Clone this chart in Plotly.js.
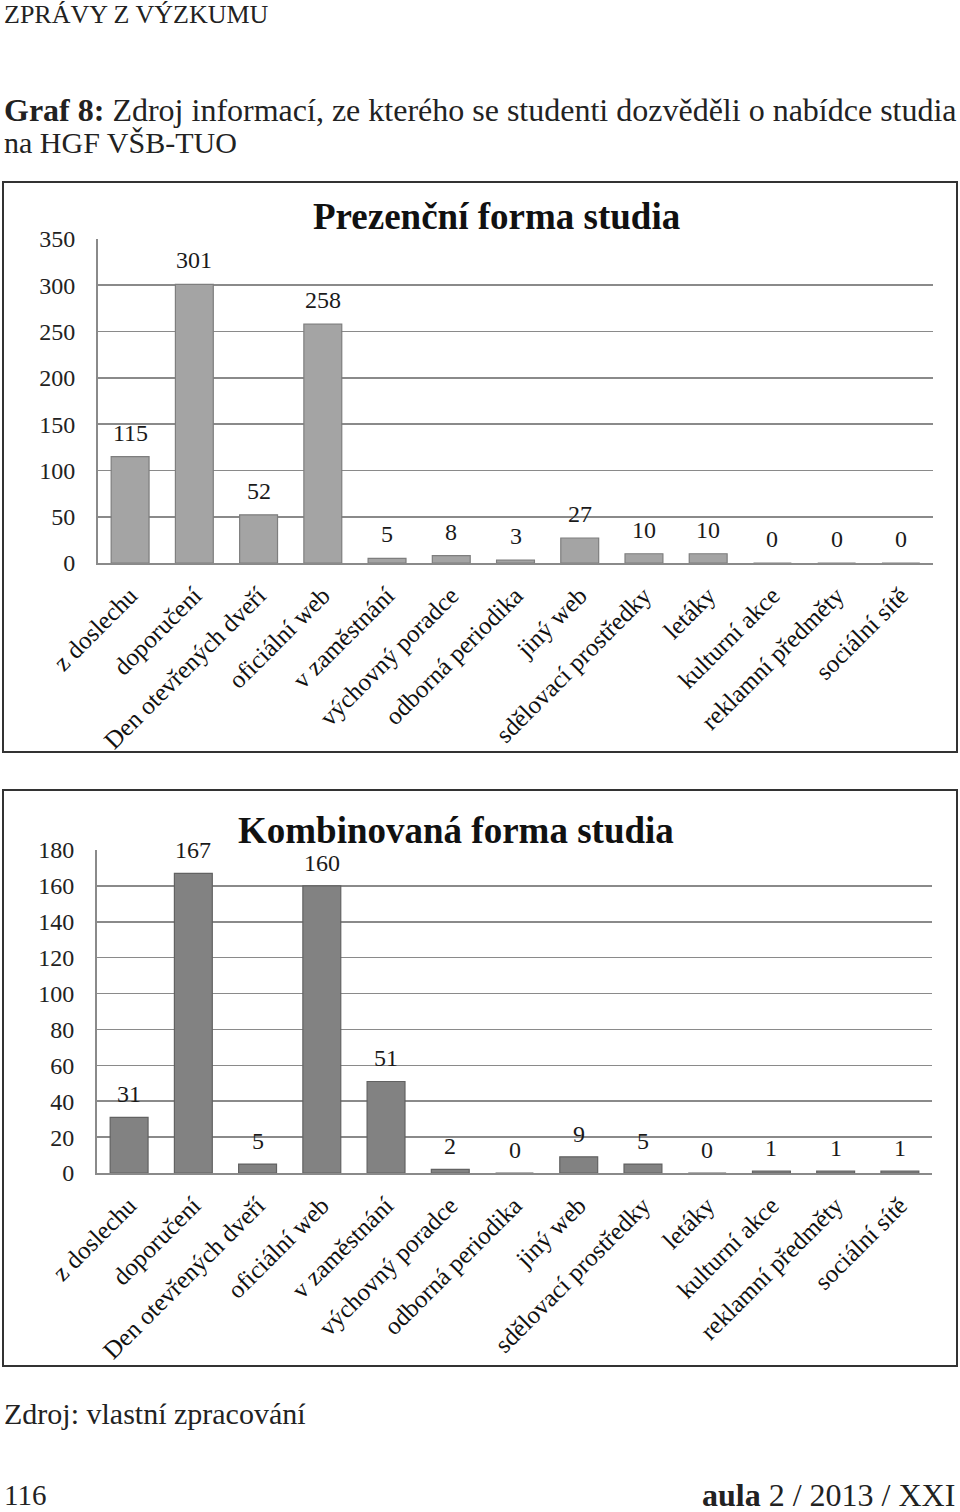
<!DOCTYPE html>
<html>
<head>
<meta charset="utf-8">
<script src="https://cdn.plot.ly/plotly-3.0.1.min.js"></script>
<style>
html,body{margin:0;padding:0;background:#fff;}
#chart{width:960px;height:1512px;}
</style>
</head>
<body>
<div id="chart"></div>
<script>
const categories = ["z doslechu","doporučení","Den otevřených dveří","oficiální web","v zaměstnání","výchovný poradce","odborná periodika","jiný web","sdělovací prostředky","letáky","kulturní akce","reklamní předměty","sociální sítě"];
const prezencni = [115,301,52,258,5,8,3,27,10,10,0,0,0];
const kombinovana = [31,167,5,160,51,2,0,9,5,0,1,1,1];
const title1 = "Prezenční forma studia";
const title2 = "Kombinovaná forma studia";

const W = 960, H = 1512;
const px = x => x / W;
const py = y => 1 - y / H;

const serif = "Liberation Serif, Times New Roman, serif";

const traces = [
  {type:'bar', x:categories, y:prezencni, xaxis:'x', yaxis:'y',
   marker:{color:'#a4a4a4', line:{color:'#7e7e7e', width:1.2}}, hoverinfo:'none'},
  {type:'bar', x:categories, y:kombinovana, xaxis:'x2', yaxis:'y2',
   marker:{color:'#828282', line:{color:'#626262', width:1.2}}, hoverinfo:'none'}
];

const annotations = [];
prezencni.forEach((v,i)=>annotations.push({x:categories[i], y:v, xref:'x', yref:'y', text:String(v),
  showarrow:false, yanchor:'bottom', yshift:9, font:{family:serif, size:24, color:'#1a1a1a'}}));
kombinovana.forEach((v,i)=>annotations.push({x:categories[i], y:v, xref:'x2', yref:'y2', text:String(v),
  showarrow:false, yanchor:'bottom', yshift:8, font:{family:serif, size:24, color:'#1a1a1a'}}));

// chart titles
annotations.push({xref:'paper', yref:'paper', x:px(496), y:py(217), text:'<b>'+title1+'</b>', showarrow:false,
  xanchor:'center', yanchor:'middle', font:{family:serif, size:37, color:'#111'}});
annotations.push({xref:'paper', yref:'paper', x:px(456), y:py(830), text:'<b>'+title2+'</b>', showarrow:false,
  xanchor:'center', yanchor:'middle', font:{family:serif, size:37, color:'#111'}});

// page texts
annotations.push({xref:'paper', yref:'paper', x:px(2), y:py(15), text:'ZPRÁVY Z VÝZKUMU', showarrow:false,
  xanchor:'left', yanchor:'middle', font:{family:serif, size:26, color:'#222'}});
annotations.push({xref:'paper', yref:'paper', x:px(2), y:py(110), text:'<b>Graf 8:</b> Zdroj informací, ze kterého se studenti dozvěděli o nabídce studia', showarrow:false,
  xanchor:'left', yanchor:'middle', font:{family:serif, size:32, color:'#222'}});
annotations.push({xref:'paper', yref:'paper', x:px(2), y:py(143), text:'na HGF VŠB-TUO', showarrow:false,
  xanchor:'left', yanchor:'middle', font:{family:serif, size:30, color:'#222'}});
annotations.push({xref:'paper', yref:'paper', x:px(2), y:py(1413), text:'Zdroj: vlastní zpracování', showarrow:false,
  xanchor:'left', yanchor:'middle', font:{family:serif, size:30, color:'#222'}});
annotations.push({xref:'paper', yref:'paper', x:px(2), y:py(1495), text:'116', showarrow:false,
  xanchor:'left', yanchor:'middle', font:{family:serif, size:29, color:'#222'}});
annotations.push({xref:'paper', yref:'paper', x:px(957), y:py(1495), text:'<b>aula</b> 2 / 2013 / XXI', showarrow:false,
  xanchor:'right', yanchor:'middle', font:{family:serif, size:32, color:'#222'}});

const shapes = [
  {type:'rect', xref:'paper', yref:'paper', x0:px(3), x1:px(957), y0:py(182), y1:py(752), line:{color:'#333', width:2}},
  {type:'rect', xref:'paper', yref:'paper', x0:px(3), x1:px(957), y0:py(790), y1:py(1366), line:{color:'#333', width:2}}
];

const xbase = {type:'category', tickangle:-45, tickfont:{family:serif, size:25, color:'#111'},
  showline:true, linecolor:'#8a8a8a', linewidth:2, ticks:'', showgrid:false, fixedrange:true, ticklabelstandoff:6};
const ybase = {tickfont:{family:serif, size:24, color:'#222'}, showline:true, linecolor:'#8a8a8a', linewidth:2,
  gridcolor:'#8a8a8a', gridwidth:1.6, ticks:'', zeroline:false, fixedrange:true, ticklabelstandoff:16};

const layout = {
  width:W, height:H, margin:{l:0,r:0,t:0,b:0}, paper_bgcolor:'#fff', plot_bgcolor:'#fff',
  showlegend:false, bargap:0.41,
  xaxis: Object.assign({}, xbase, {domain:[px(98), px(933)], anchor:'y'}),
  yaxis: Object.assign({}, ybase, {domain:[py(563), py(239)], range:[0,350], dtick:50, anchor:'x'}),
  xaxis2: Object.assign({}, xbase, {domain:[px(97), px(932)], anchor:'y2'}),
  yaxis2: Object.assign({}, ybase, {domain:[py(1173), py(850)], range:[0,180], dtick:20, anchor:'x2'}),
  annotations: annotations, shapes: shapes
};

Plotly.newPlot('chart', traces, layout, {staticPlot:true, displayModeBar:false});
</script>
</body>
</html>
